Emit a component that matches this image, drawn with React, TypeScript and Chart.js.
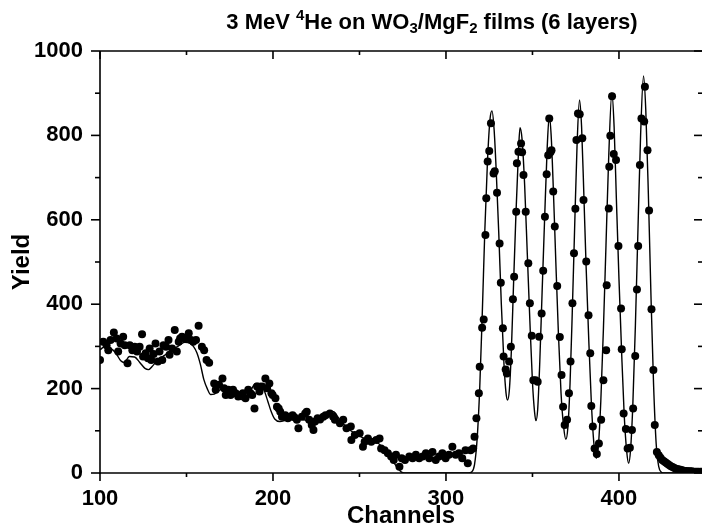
import React, { useEffect, useRef } from "react";
import { Chart, registerables } from "chart.js";

Chart.register(...registerables);

// ---------- data ----------
const expChannels = [
  100, 101.9, 103.8, 104.8, 106.1, 108.0, 109.6, 110.5, 111.9, 113.4, 114.3, 115.9, 117.2, 118.7, 120.1,
  121.4, 122.9, 124.3, 124.9, 126.4, 127.7, 128.7, 129.6, 131.0, 132.1, 133.5, 134.4, 136.0, 136.7, 138.2,
  139.6, 140.2, 141.7, 143.2, 144.4, 145.5, 146.3, 147.4, 149.3, 151.3, 152.6, 153.9, 155.5, 157.0, 158.9,
  160.2, 161.6, 163.1, 166.0, 166.9, 168.8, 170.8, 171.7, 172.7, 174.2, 175.5, 176.9, 178.4, 179.9, 181.3,
  182.6, 184.1, 185.7, 187.0, 188.0, 189.3, 190.8, 192.2, 193.7, 195.6, 196.6, 197.9, 199.1, 199.8, 201.4,
  202.3, 203.3, 204.2, 205.2, 207.1, 208.6, 210.0, 211.3, 212.4, 213.8, 214.7, 216.7, 218.6, 219.5, 220.9,
  222.4, 223.4, 224.3, 225.8, 227.2, 229.1, 230.4, 232.9, 234.8, 235.8, 238.7, 240.6, 242.5, 245.0, 245.3,
  247.3, 250.1, 252.0, 253.0, 254.9, 256.8, 259.7, 261.6, 262.5, 264.5, 266.4, 268.3, 269.8, 271.1, 273.1,
  274.4, 276.3, 278.8, 280.7, 282.6, 284.5, 286.5, 288.4, 290.3, 292.2, 294.1, 296.0, 297.9, 299.8, 301.7,
  303.7, 305.6, 307.5, 309.4, 311.3, 312.6, 314.2, 315.7, 316.5, 317.6, 319.0, 319.5, 320.9, 321.8, 322.8,
  323.3, 324.1, 325.0, 326.0, 327.5, 328.2, 329.5, 331.0, 331.7, 332.9, 333.3, 334.5, 335.2, 336.5, 337.5,
  338.7, 339.4, 340.6, 341.0, 341.9, 343.4, 344.0, 344.8, 346.1, 347.6, 348.5, 349.6, 350.5, 351.8, 353.0,
  353.9, 355.3, 356.2, 357.2, 358.2, 359.1, 359.7, 360.4, 361.0, 362.0, 362.9, 364.3, 365.8, 366.8, 367.7,
  368.6, 370.0, 371.1, 372.0, 373.1, 374.0, 374.8, 375.4, 376.3, 377.3, 378.8, 379.5, 381.1, 382.4, 383.4,
  384.0, 384.9, 385.9, 387.2, 388.4, 389.7, 391.0, 392.6, 392.9, 394.1, 394.4, 395.0, 396.0, 397.0, 398.3,
  399.7, 401.2, 401.6, 402.7, 404.0, 405.0, 406.3, 407.5, 408.2, 409.4, 410.4, 411.1, 412.1, 413.0, 414.6,
  415.0, 416.5, 417.4, 418.8, 419.9, 420.7, 421.9, 423, 424, 425, 426, 427, 428, 429, 430,
  431, 432, 433, 434, 435, 436, 437, 438, 439, 440, 441, 442, 443, 444, 445,
  446, 447, 448,
];
const expYield = [
  268, 311, 303, 291, 315, 333, 319, 288, 307, 323, 303, 260, 303, 291, 299,
  288, 299, 329, 276, 284, 272, 295, 268, 282, 307, 264, 288, 268, 303, 299,
  315, 280, 295, 339, 288, 311, 319, 323, 319, 331, 315, 311, 315, 349, 299,
  291, 268, 261, 212, 197, 209, 224, 201, 185, 197, 185, 197, 189, 181, 185,
  189, 177, 197, 189, 185, 153, 205, 193, 205, 224, 201, 212, 189, 185, 177,
  157, 153, 145, 133, 137, 130, 133, 137, 132, 126, 106, 133, 141, 145, 126,
  114, 102, 122, 130, 127, 133, 137, 141, 133, 126, 118, 126, 106, 110, 78,
  90, 94, 62, 74, 82, 74, 78, 82, 58, 54, 47, 39, 31, 43, 15,
  35, 31, 39, 35, 43, 35, 39, 47, 35, 50, 31, 39, 47, 35, 43,
  62, 43, 47, 35, 54, 23, 54, 58, 86, 130, 189, 252, 344, 364, 564,
  651, 738, 763, 829, 710, 715, 664, 544, 451, 343, 276, 245, 236, 264, 299,
  412, 465, 619, 734, 761, 781, 760, 706, 619, 497, 402, 325, 220, 220, 216,
  323, 378, 479, 607, 708, 753, 840, 760, 765, 667, 584, 443, 322, 232, 157,
  114, 126, 189, 264, 402, 521, 626, 789, 852, 850, 793, 647, 501, 374, 284,
  159, 110, 58, 45, 70, 126, 220, 291, 445, 627, 726, 799, 893, 756, 742,
  538, 390, 293, 141, 104, 58, 60, 102, 153, 277, 435, 538, 730, 840, 833,
  915, 765, 622, 388, 244, 114, 50, 42, 36, 31, 28, 25, 22, 19, 16,
  14, 12, 10, 9, 8, 7, 6, 5, 5, 4, 4, 4, 3, 3, 3,
  3, 3, 3,
];

const simChannels = [
  100, 103, 106, 109, 112, 114, 117, 120, 123, 126, 128, 130, 133, 137, 141,
  145, 149, 152, 154, 156, 158, 160, 162, 164, 166, 168, 171, 174, 177, 180,
  182, 184, 187, 190, 193, 195, 197, 199, 201, 204, 208, 212, 216, 220, 224,
  228, 232, 235, 238, 241, 245, 249, 253, 257, 261, 264, 267, 270, 272, 274,
  276, 313, 315, 316.5, 318, 319.5, 321, 322.5, 324, 325.5, 326.6, 327.8, 329, 330.5, 332,
  333.5, 334.7, 335.6, 336.6, 337.8, 339, 340.5, 342, 342.8, 344, 345.5, 347, 348.5, 350, 351.2,
  352, 353, 354.2, 355.5, 357, 358.5, 359.7, 360.8, 362, 363.5, 365, 366.5, 368, 369.3, 370.5,
  371.7, 373, 374.3, 375.8, 377.2, 378.4, 379.7, 381, 382.5, 384, 385.5, 386.9, 388.2, 389.5, 391,
  392.5, 394, 395.9, 397.2, 398.5, 400, 401.5, 403, 404.5, 405.6, 406.7, 408, 409.5, 411, 412.5,
  414.2, 415.5, 417, 418.5, 420, 421.5, 423, 424.5, 426, 448,
];
const simYield = [
  292, 300, 296, 285, 266, 262, 276, 275, 262, 248, 245, 252, 266, 278, 290,
  300, 310, 308, 300, 285, 258, 222, 200, 186, 187, 193, 200, 198, 190, 177,
  174, 180, 195, 212, 212, 195, 170, 145, 128, 122, 126, 130, 128, 124, 122,
  132, 145, 145, 130, 115, 100, 90, 82, 77, 70, 58, 42, 24, 12, 3,
  0, 0, 3, 20, 80, 200, 380, 580, 740, 840, 858, 815, 720, 570, 400,
  260, 190, 173, 195, 290, 440, 620, 770, 818, 790, 680, 520, 360, 215, 145,
  124, 150, 260, 420, 600, 770, 846, 800, 680, 500, 330, 190, 110, 80, 110,
  210, 380, 570, 780, 884, 820, 660, 490, 320, 170, 70, 35, 70, 170, 340,
  540, 740, 901, 820, 650, 460, 290, 140, 50, 23, 55, 160, 350, 580, 800,
  941, 860, 660, 420, 210, 70, 15, 2, 0, 0,
];

const xTickValues = [100, 200, 300, 400];
const xMinorTickValues = [150, 250, 350];
const yTickValues = [0, 200, 400, 600, 800, 1000];
const yMinorTickValues = [100, 300, 500, 700, 900];

const titleParts: { text: string; kind: "n" | "sup" | "sub" }[] = [
  { text: "3 MeV ", kind: "n" },
  { text: "4", kind: "sup" },
  { text: "He on WO", kind: "n" },
  { text: "3", kind: "sub" },
  { text: "/MgF", kind: "n" },
  { text: "2", kind: "sub" },
  { text: " films (6 layers)", kind: "n" },
];
const xAxisTitle = "Channels";
const yAxisTitle = "Yield";

const FONT = "'Liberation Sans', Arial, Helvetica, sans-serif";

const framePlugin = {
  id: "frame",
  afterDraw(chart: any) {
    const { ctx, chartArea, scales } = chart;
    const { left, right, top, bottom } = chartArea;
    const x = scales.x;
    const y = scales.y;
    ctx.save();
    ctx.strokeStyle = "#000";
    ctx.lineWidth = 1.6;
    ctx.lineCap = "butt";
    const seg = (x1: number, y1: number, x2: number, y2: number) => {
      ctx.beginPath();
      ctx.moveTo(x1, y1);
      ctx.lineTo(x2, y2);
      ctx.stroke();
    };
    seg(left, top, left, bottom + 0.8);
    seg(left - 0.8, bottom, right, bottom);
    seg(left, top, right, top);
    const MAJ = 8;
    const MIN = 4;
    xTickValues.forEach((v) => {
      const px = x.getPixelForValue(v);
      seg(px, bottom, px, bottom + MAJ);
      seg(px, top, px, top + MAJ);
    });
    xMinorTickValues.forEach((v) => {
      const px = x.getPixelForValue(v);
      seg(px, bottom, px, bottom + MIN);
      seg(px, top, px, top + MIN);
    });
    yTickValues.forEach((v) => {
      const py = y.getPixelForValue(v);
      seg(left - MAJ - 1, py, left, py);
      seg(right - MAJ, py, right, py);
    });
    yMinorTickValues.forEach((v) => {
      const py = y.getPixelForValue(v);
      seg(left - MIN - 1, py, left, py);
      seg(right - MIN, py, right, py);
    });

    // title with super/subscripts
    const size = 22;
    const small = 15;
    const fontN = `bold ${size}px ${FONT}`;
    const fontS = `bold ${small}px ${FONT}`;
    let total = 0;
    titleParts.forEach((p) => {
      ctx.font = p.kind === "n" ? fontN : fontS;
      total += ctx.measureText(p.text).width;
    });
    const cx = 432;
    const base = 29;
    let cur = cx - total / 2;
    ctx.fillStyle = "#000";
    ctx.textBaseline = "alphabetic";
    ctx.textAlign = "left";
    titleParts.forEach((p) => {
      ctx.font = p.kind === "n" ? fontN : fontS;
      const dy = p.kind === "sup" ? -9 : p.kind === "sub" ? 4 : 0;
      ctx.fillText(p.text, cur, base + dy);
      cur += ctx.measureText(p.text).width;
    });
    ctx.restore();
  },
};

export default function App() {
  const ref = useRef<HTMLCanvasElement | null>(null);

  useEffect(() => {
    if (!ref.current) return;
    const expData = expChannels.map((c, i) => ({ x: c, y: expYield[i] }));
    const simData = simChannels.map((c, i) => ({ x: c, y: simYield[i] }));
    const chart = new Chart(ref.current, {
      type: "scatter",
      data: {
        datasets: [
          {
            type: "line",
            label: "Simulation",
            data: simData,
            borderColor: "#000",
            borderWidth: 1.4,
            pointRadius: 0,
            fill: false,
            cubicInterpolationMode: "monotone",
            order: 2,
          } as any,
          {
            label: "Experiment",
            data: expData,
            backgroundColor: "#000",
            borderColor: "#000",
            pointRadius: 4,
            pointBorderWidth: 0,
            showLine: false,
            order: 1,
          },
        ],
      },
      options: {
        animation: false,
        responsive: false,
        devicePixelRatio: 1,
        layout: { padding: { top: 51, right: 0, left: 0, bottom: 0 } },
        plugins: {
          legend: { display: false },
          tooltip: { enabled: false },
          title: { display: false },
        },
        scales: {
          x: {
            type: "linear",
            min: 100,
            max: 448,
            grid: { display: false, drawTicks: false },
            border: { display: false },
            afterBuildTicks: (s: any) => {
              s.ticks = xTickValues.map((v) => ({ value: v }));
            },
            afterFit: (s: any) => {
              s.height = 58;
            },
            ticks: {
              padding: 13,
              color: "#000",
              font: { family: FONT, size: 22, weight: "bold" },
              maxRotation: 0,
              autoSkip: false,
              callback: (v: any) => String(v),
            },
            title: {
              display: true,
              text: xAxisTitle,
              color: "#000",
              font: { family: FONT, size: 24, weight: "bold" },
              padding: { top: 0, bottom: 0 },
            },
          },
          y: {
            type: "linear",
            min: 0,
            max: 1000,
            grid: { display: false, drawTicks: false },
            border: { display: false },
            afterBuildTicks: (s: any) => {
              s.ticks = yTickValues.map((v) => ({ value: v }));
            },
            afterFit: (s: any) => {
              s.width = 100;
            },
            ticks: {
              padding: 17,
              color: "#000",
              font: { family: FONT, size: 22, weight: "bold" },
              autoSkip: false,
              callback: (v: any) => String(v),
            },
            title: {
              display: true,
              text: yAxisTitle,
              color: "#000",
              font: { family: FONT, size: 24, weight: "bold" },
              padding: { top: 8, bottom: 0 },
            },
          },
        },
      },
      plugins: [framePlugin],
    });
    return () => chart.destroy();
  }, []);

  return (
    <div style={{ position: "fixed", left: 0, top: 0, width: 706, height: 531, background: "#fff" }}>
      <canvas ref={ref} width={706} height={531} style={{ display: "block" }} />
    </div>
  );
}
